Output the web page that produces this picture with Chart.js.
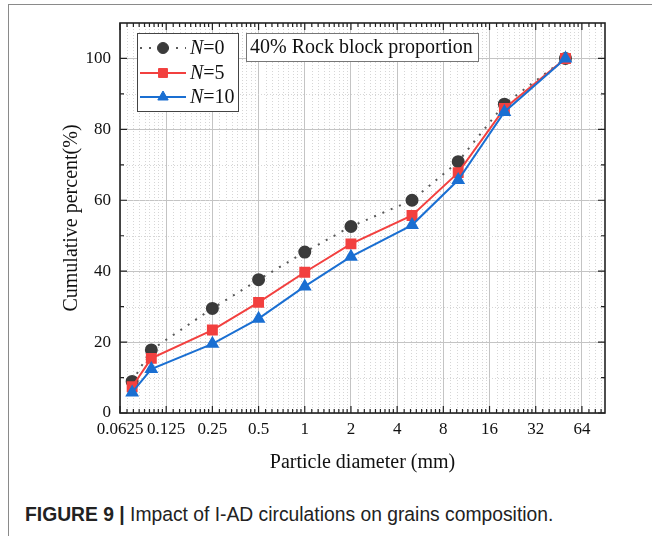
<!DOCTYPE html>
<html>
<head>
<meta charset="utf-8">
<script src="https://cdn.jsdelivr.net/npm/chart.js@4.4.0/dist/chart.umd.min.js"></script>
<style>
html, body { margin: 0; padding: 0; background: #fff; }
body { width: 652px; height: 536px; position: relative; overflow: hidden; }
#frame { position: absolute; left: 8px; top: 4px; width: 660px; height: 560px;
  border-top: 1.5px solid #8a8a8a; border-left: 1.5px solid #8a8a8a; }
#wrap { position: absolute; left: 0; top: 0; width: 652px; height: 490px; }
#cap { position: absolute; left: 25px; top: 505px; line-height: 20px; white-space: nowrap;
  font-family: "Liberation Sans", Arial, sans-serif; font-size: 19.3px; color: #222; }
#cap b { font-weight: bold; }
</style>
</head>
<body>
<div id="frame"></div>
<div id="wrap"><canvas id="gradingChart"></canvas></div>
<div id="cap"><b>FIGURE 9 |</b> Impact of I-AD circulations on grains composition.</div>
<script>
// particle diameters (mm) and cumulative passing (%)
const diameters = [0.075, 0.1, 0.25, 0.5, 1, 2, 5, 10, 20, 50];
const passN0 = [8.9, 17.8, 29.5, 37.6, 45.4, 52.6, 60.0, 70.9, 87.1, 100];
const passN5 = [7.4, 15.4, 23.4, 31.2, 39.7, 47.7, 55.7, 67.8, 85.9, 100];
const passN10 = [5.8, 12.4, 19.5, 26.6, 35.7, 44.1, 53.0, 65.7, 84.9, 100];
const seriesNames = ['0', '5', '10'];

const xTickValues = [0.0625, 0.125, 0.25, 0.5, 1, 2, 4, 8, 16, 32, 64];
const xTickLabels = ['0.0625', '0.125', '0.25', '0.5', '1', '2', '4', '8', '16', '32', '64'];
const yTickValues = [0, 20, 40, 60, 80, 100];
const yMinorValues = [10, 30, 50, 70, 90];

const X_MIN = 0.0625, X_MAX = 90.5;

// minor ticks: 8 linear steps inside each octave
const xMinorValues = [];
xTickValues.forEach(b => {
  for (let i = 1; i <= 8; i++) {
    const v = b * (1 + i / 9);
    if (v < X_MAX) xMinorValues.push(v);
  }
});

const serif = '"Liberation Serif", "Times New Roman", serif';

const frameAndExtras = {
  id: 'frameAndExtras',
  beforeDatasetsDraw(chart) {
    const { ctx, chartArea: a, scales: { x, y } } = chart;
    ctx.save();
    ctx.strokeStyle = '#d6d6d6';
    ctx.lineWidth = 1;
    ctx.setLineDash([1, 2]);
    xMinorValues.forEach(v => {
      const px = Math.round(x.getPixelForValue(v)) + 0.5;
      ctx.beginPath(); ctx.moveTo(px, a.top); ctx.lineTo(px, a.bottom); ctx.stroke();
    });
    yMinorValues.forEach(v => {
      const py = Math.round(y.getPixelForValue(v)) + 0.5;
      ctx.beginPath(); ctx.moveTo(a.left, py); ctx.lineTo(a.right, py); ctx.stroke();
    });
    ctx.restore();
  },
  afterDraw(chart) {
    const { ctx, chartArea: a, scales: { x, y } } = chart;
    ctx.save();
    // inward ticks on all four sides
    ctx.strokeStyle = '#222';
    ctx.lineWidth = 1.2;
    const vTick = (v, len) => {
      const px = x.getPixelForValue(v);
      ctx.beginPath();
      ctx.moveTo(px, a.bottom); ctx.lineTo(px, a.bottom - len);
      ctx.moveTo(px, a.top); ctx.lineTo(px, a.top + len);
      ctx.stroke();
    };
    const hTick = (v, len) => {
      const py = y.getPixelForValue(v);
      ctx.beginPath();
      ctx.moveTo(a.left, py); ctx.lineTo(a.left + len, py);
      ctx.moveTo(a.right, py); ctx.lineTo(a.right - len, py);
      ctx.stroke();
    };
    xTickValues.forEach(v => vTick(v, 7));
    xMinorValues.forEach(v => vTick(v, 4));
    yTickValues.forEach(v => hTick(v, 7));
    yMinorValues.forEach(v => hTick(v, 4));
    ctx.lineWidth = 1.6;
    ctx.strokeRect(a.left, a.top, a.right - a.left, a.bottom - a.top);

    // legend box
    const lx = 137, ly = 33, lw = 101, lh = 78;
    ctx.fillStyle = '#fff';
    ctx.fillRect(lx, ly, lw, lh);
    ctx.strokeStyle = '#444';
    ctx.lineWidth = 1;
    ctx.strokeRect(lx + 0.5, ly + 0.5, lw, lh);
    const rows = [48, 73, 97];
    chart.data.datasets.forEach((ds, i) => {
      const ry = rows[i];
      ctx.save();
      ctx.strokeStyle = ds.borderColor;
      ctx.lineWidth = ds.borderWidth;
      ctx.setLineDash(ds.borderDash || []);
      ctx.beginPath(); ctx.moveTo(140, ry); ctx.lineTo(186, ry); ctx.stroke();
      ctx.restore();
      ctx.fillStyle = ds.pointBackgroundColor;
      ctx.strokeStyle = ds.pointBorderColor;
      Chart.helpers.drawPoint(ctx, { pointStyle: ds.pointStyle, radius: ds.pointRadius, rotation: 0, borderWidth: 1 }, 163, ry);
      ctx.fillStyle = '#111';
      ctx.textBaseline = 'middle';
      ctx.font = 'italic 20px ' + serif;
      ctx.fillText('N', 190, ry + 1);
      const nw = ctx.measureText('N').width;
      ctx.font = '20px ' + serif;
      ctx.fillText('=' + seriesNames[i], 190 + nw, ry + 1);
    });

    // annotation box
    ctx.fillStyle = '#fff';
    ctx.fillRect(246, 33, 232, 28);
    ctx.strokeStyle = '#777';
    ctx.strokeRect(246.5, 33.5, 232, 28);
    ctx.fillStyle = '#111';
    ctx.font = '20px ' + serif;
    ctx.textBaseline = 'middle';
    ctx.fillText('40% Rock block proportion', 250, 48);
    ctx.restore();
  }
};

const ctx = document.getElementById('gradingChart').getContext('2d');
new Chart(ctx, {
  type: 'line',
  data: {
    labels: diameters,
    datasets: [{
      label: 'N=0',
      data: diameters.map((d, i) => ({ x: d, y: passN0[i] })),
      borderColor: '#5a5a5a',
      borderWidth: 2,
      borderDash: [2, 7],
      pointStyle: 'circle',
      pointRadius: 5.5,
      pointBackgroundColor: '#3b3b3b',
      pointBorderColor: '#3b3b3b',
      order: 3
    }, {
      label: 'N=5',
      data: diameters.map((d, i) => ({ x: d, y: passN5[i] })),
      borderColor: '#f2403f',
      borderWidth: 2,
      pointStyle: 'rect',
      pointRadius: 6.3,
      pointBackgroundColor: '#f2403f',
      pointBorderColor: '#f2403f',
      order: 2
    }, {
      label: 'N=10',
      data: diameters.map((d, i) => ({ x: d, y: passN10[i] })),
      borderColor: '#1a6fd2',
      borderWidth: 2,
      pointStyle: 'triangle',
      pointRadius: 6,
      pointBackgroundColor: '#1a6fd2',
      pointBorderColor: '#1a6fd2',
      order: 1
    }]
  },
  options: {
    responsive: true,
    maintainAspectRatio: false,
    animation: false,
    layout: { padding: { left: 10, top: 23, right: 47, bottom: 0 } },
    plugins: { legend: { display: false }, tooltip: { enabled: false } },
    scales: {
      x: {
        type: 'logarithmic',
        min: X_MIN,
        max: X_MAX,
        afterBuildTicks: s => { s.ticks = xTickValues.map(v => ({ value: v })); },
        afterFit: s => { s.height = 77; },
        grid: { color: '#c4c4c4', lineWidth: 1, drawTicks: false },
        border: { display: false },
        ticks: {
          autoSkip: false, maxRotation: 0, padding: 6,
          color: '#111',
          font: { family: serif, size: 17 },
          callback: (v, i) => xTickLabels[i]
        },
        title: {
          display: true, text: 'Particle diameter (mm)', color: '#111',
          font: { family: serif, size: 20 },
          padding: { top: 0, bottom: 15 }
        }
      },
      y: {
        type: 'linear',
        min: 0,
        max: 110,
        afterBuildTicks: s => { s.ticks = yTickValues.map(v => ({ value: v })); },
        afterFit: s => { s.width = 110; },
        grid: { color: '#c4c4c4', lineWidth: 1, drawTicks: false },
        border: { display: false },
        ticks: {
          padding: 9, color: '#111',
          font: { family: serif, size: 17 }
        },
        title: {
          display: true, text: 'Cumulative percent(%)', color: '#111',
          font: { family: serif, size: 20 },
          padding: { top: 50, bottom: 0 }
        }
      }
    }
  },
  plugins: [frameAndExtras]
});
</script>
</body>
</html>
